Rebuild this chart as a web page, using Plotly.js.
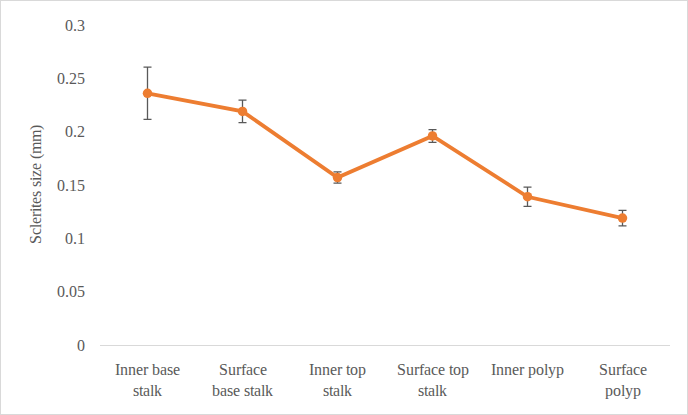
<!DOCTYPE html>
<html>
<head>
<meta charset="utf-8">
<script src="https://cdn.plot.ly/plotly-3.0.1.min.js"></script>
<style>
@font-face{font-family:"RefSerif";src:local("Liberation Serif"),local("LiberationSerif-Regular"),local("LiberationSerif"),local("DejaVu Serif"),local("DejaVuSerif");}
html,body{margin:0;padding:0;background:#fff;}
#chart{width:688px;height:415px;}
</style>
</head>
<body>
<div id="chart"></div>
<script>
const categories = ["Inner base<br>stalk", "Surface<br>base stalk", "Inner top<br>stalk", "Surface top<br>stalk", "Inner polyp", "Surface<br>polyp"];
const sizes = [0.236, 0.219, 0.157, 0.196, 0.139, 0.119];
const errors = [0.0245, 0.0105, 0.0053, 0.006, 0.009, 0.0073];
const yTicks = [0, 0.05, 0.1, 0.15, 0.2, 0.25, 0.3];
const yTickLabels = ["0", "0.05", "0.1", "0.15", "0.2", "0.25", "0.3"];
const yTitle = "Sclerites size (mm)";

const font = "RefSerif, Liberation Serif, serif";

const trace = {
  x: categories,
  y: sizes,
  type: "scatter",
  mode: "lines+markers",
  line: {color: "#ED7D31", width: 3.8},
  marker: {color: "#ED7D31", size: 9.5},
  error_y: {type: "data", array: errors, visible: true, color: "#595959", thickness: 1.3, width: 4},
  hoverinfo: "skip"
};

const layout = {
  width: 688,
  height: 415,
  margin: {l: 100, r: 18, t: 25, b: 70},
  paper_bgcolor: "#fff",
  plot_bgcolor: "#fff",
  showlegend: false,
  font: {family: font, size: 16, color: "#595959"},
  xaxis: {
    type: "category",
    range: [-0.5, 5.5],
    automargin: false,
    showgrid: false,
    zeroline: false,
    showline: true,
    linecolor: "#d9d9d9",
    linewidth: 1,
    ticks: "",
    ticklabelstandoff: 10,
    tickfont: {family: font, size: 16, color: "#595959"},
    fixedrange: true
  },
  yaxis: {
    range: [0, 0.3],
    automargin: false,
    tickvals: yTicks,
    ticktext: yTickLabels,
    showgrid: false,
    zeroline: false,
    showline: false,
    ticks: "",
    ticklabelstandoff: 14,
    tickfont: {family: font, size: 16, color: "#595959"},
    fixedrange: true
  },
  annotations: [{
    text: yTitle, xref: "paper", yref: "paper", x: -0.114, y: 0.5,
    xanchor: "center", yanchor: "middle", textangle: -90, showarrow: false,
    font: {family: font, size: 16, color: "#595959"}
  }]
};

function draw() {
  Plotly.newPlot("chart", [trace], layout, {displayModeBar: false, staticPlot: true});
}
if (document.fonts && document.fonts.load) {
  document.fonts.load("16px RefSerif").then(draw, draw);
} else {
  draw();
}
</script>
<div style="position:absolute;left:0;top:0;width:686px;height:413px;border:1px solid #d9d9d9;pointer-events:none;"></div>
</body>
</html>
